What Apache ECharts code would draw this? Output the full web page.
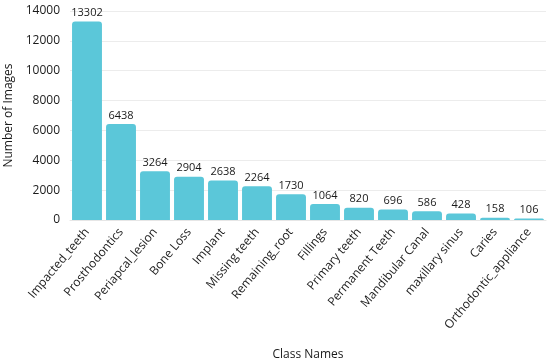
<!DOCTYPE html>
<html><head><meta charset="utf-8">
<script src="https://cdn.jsdelivr.net/npm/echarts@6/dist/echarts.min.js"></script>
<style>html,body{margin:0;padding:0;background:#fff}#c{width:550px;height:362px}</style>
</head><body><div id="c"></div>
<script>
const categories = ["Impacted_teeth","Prosthodontics","Periapcal_lesion","Bone Loss","Implant","Missing teeth","Remaining_root","Fillings","Primary teeth","Permanent Teeth","Mandibular Canal","maxillary sinus","Caries","Orthodontic_appliance"];
const counts = [13302,6438,3264,2904,2638,2264,1730,1064,820,696,586,428,158,106];
const yTicks = [0,2000,4000,6000,8000,10000,12000,14000];
const FONT = "Open Sans";
const chart = echarts.init(document.getElementById('c'));
chart.setOption({
  animation:false,
  textStyle:{fontFamily:FONT},
  grid:{left:70,right:4,top:11,bottom:142,containLabel:false,outerBoundsMode:'none'},
  xAxis:{type:'category',data:categories,
    axisLine:{show:true,lineStyle:{color:'#e6e6e6'}},axisTick:{show:false},
    axisLabel:{rotate:50,interval:0,fontSize:12,color:'#1a1a1a',fontFamily:FONT,margin:10},
    name:'Class Names',nameLocation:'middle',nameGap:129,nameTextStyle:{fontSize:12,color:'#1a1a1a',fontFamily:FONT}},
  yAxis:{type:'value',min:yTicks[0],max:yTicks[yTicks.length-1],interval:2000,
    axisLine:{show:false},axisTick:{show:false},
    splitLine:{lineStyle:{color:'#ececec'}},
    axisLabel:{fontSize:12,color:'#1a1a1a',fontFamily:FONT,margin:10,formatter:v=>String(v)},
    name:'Number of Images',nameLocation:'middle',nameGap:49,nameRotate:90,nameTextStyle:{fontSize:12,color:'#1a1a1a',fontFamily:FONT}},
  series:[{type:'bar',data:counts,barCategoryGap:'12%',
    itemStyle:{color:'#5bc7d9',borderRadius:[3,3,0,0]},
    label:{show:true,position:'top',fontSize:11,color:'#1a1a1a',fontFamily:FONT,distance:3}}]
});
</script></body></html>
